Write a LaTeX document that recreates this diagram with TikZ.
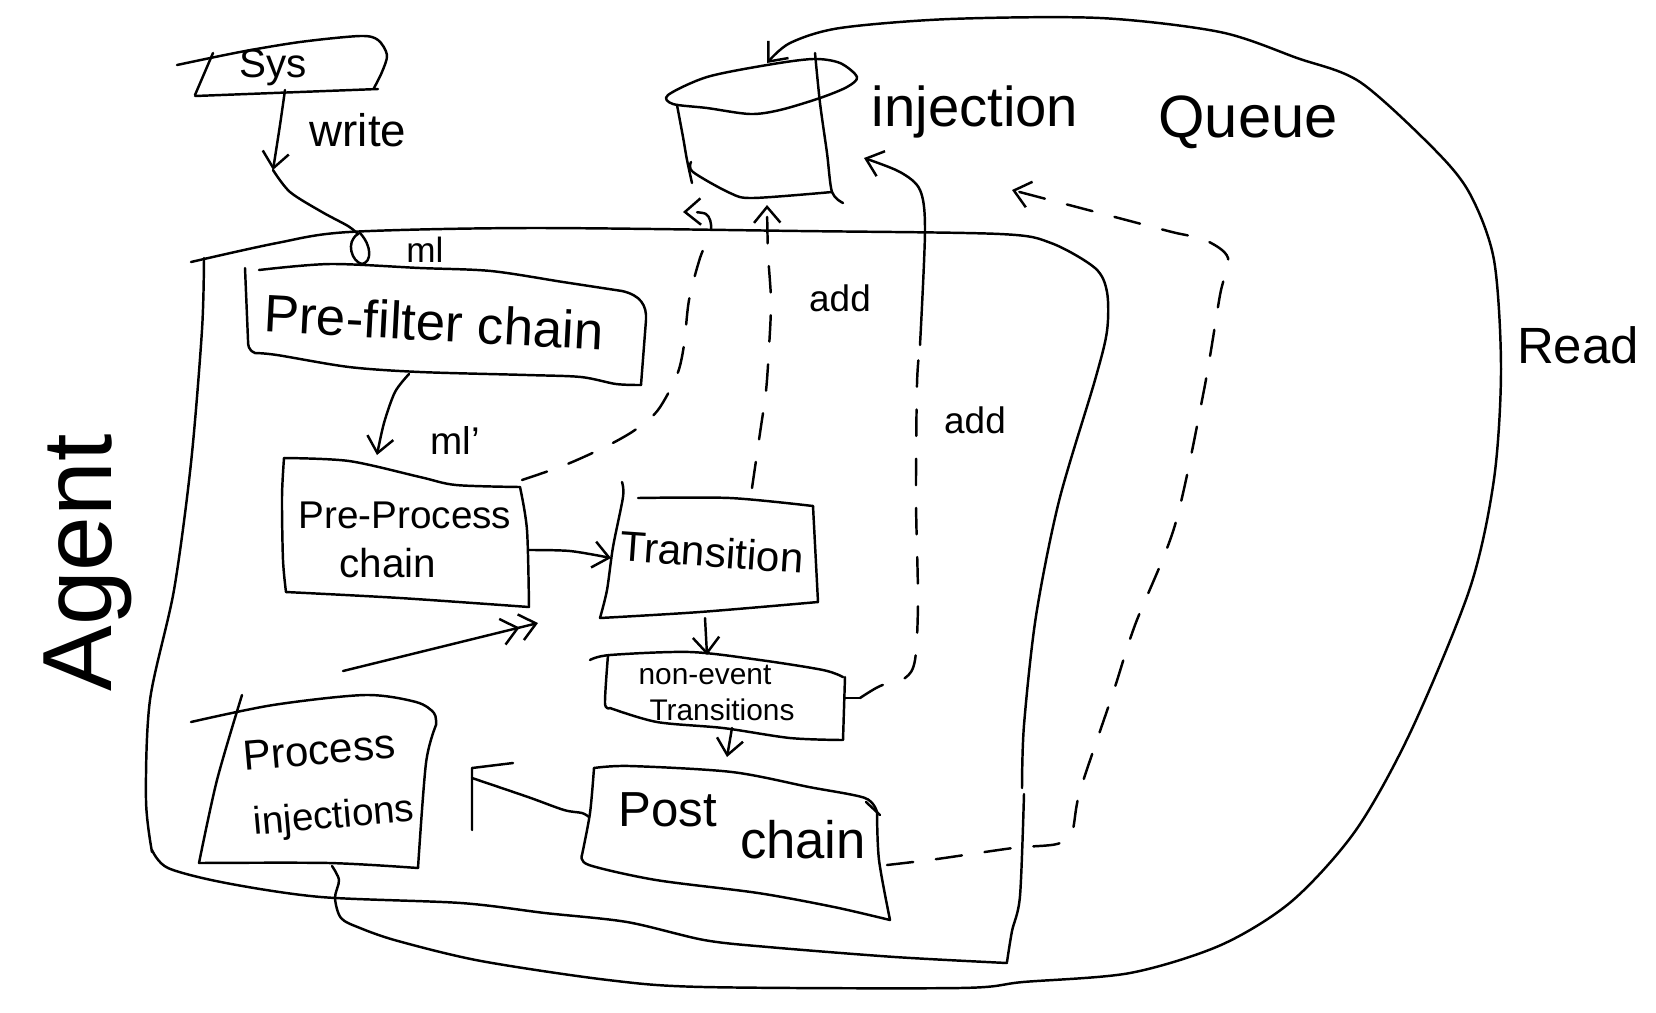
\documentclass[tikz,border=0pt]{standalone}
\usepackage{fontspec}
\setmainfont{Liberation Sans}
\usetikzlibrary{arrows.meta}
\begin{document}
\begin{tikzpicture}[x=0.02cm,y=-0.02cm,
  line width=1.4pt, line cap=round, line join=round,
  arr/.style={-{Straight Barb[length=9pt,width=15pt,line width=1.4pt]}},
  darr/.style={-{Straight Barb[length=9pt,width=15pt,line width=1.4pt]Straight Barb[length=9pt,width=15pt,line width=1.4pt]}},
  dsh/.style={dash pattern=on 15pt off 13pt},
  txt/.style={inner sep=0pt, anchor=center},
]
\fill[white] (0,0) rectangle (1656,1012);
\useasboundingbox (0,0) rectangle (1656,1012);

% ---------- Sys box ----------
\draw plot[smooth] coordinates {(177,65) (240,52) (300,42) (360,36) (378,40) (387,55) (382,72) (374,88)};
\draw (213,53) -- (195,95);
\draw (195,96) -- (378,89);
\node[txt, font=\fontsize{23}{26}\selectfont] (sys) at (273,68) {Sys};
\coordinate (sys-s) at (285,90);
\coordinate (wmid) at (273,170);
\draw[arr] plot[smooth] coordinates {(sys-s) (280,125) (wmid)};
\draw plot[smooth] coordinates {(wmid) (290,192) (322,212) (348,226) (358,234)};
\draw (358,234) .. controls (345,242) and (352,262) .. (362,264) .. controls (372,262) and (372,246) .. (360,233);
\node[txt, font=\fontsize{26}{30}\selectfont] (write) at (358,130) {write};
\node[txt, font=\fontsize{20}{24}\selectfont] (ml1) at (425,250) {ml};

% ---------- Agent big box ----------
\draw plot[smooth] coordinates {(191,262) (277,243) (349,232) (530,228) (800,231) (1000,234) (1051,243) (1095,268) (1107,292) (1107,331) (1095,380) (1059,501) (1036,616) (1024,725) (1022,788)};
\draw plot[smooth] coordinates {(1024,794) (1020,896) (1012,931) (1007,962)};
\draw plot[smooth] coordinates {(1007,963) (895,957) (768,947) (704,940) (627,922) (545,913) (461,903) (321,897) (226,883) (168,868) (152,850)};
\draw plot[smooth] coordinates {(152,852) (146,800) (150,700) (174,590) (191,463) (202,330) (204,258)};
\node[txt, rotate=90, font=\fontsize{56}{60}\selectfont] (agent) at (88,563) {Agent};

% ---------- Pre-filter chain ----------
\draw plot[smooth] coordinates {(259,270) (330,264) (420,268) (491,271) (563,282) (622,291)};
\draw (622,291) .. controls (640,295) and (647,305) .. (646,320) -- (641,385);
\draw plot[smooth] coordinates {(641,385) (616,384) (581,377) (527,375) (420,372) (349,367) (277,355) (255,353)};
\draw (255,353) .. controls (248,350) and (248,345) .. (248,340) -- (245,268);
\node[txt, rotate=-3, font=\fontsize{30}{34}\selectfont] (pf) at (434,322) {Pre-filter chain};

\coordinate (pf-s) at (409,374);
\coordinate (pp-n) at (377,455);
\draw[arr] plot[smooth] coordinates {(pf-s) (395,392) (384,423) (pp-n)};
\node[txt, font=\fontsize{22}{26}\selectfont] (ml2) at (455,440) {ml'};

% ---------- Pre-Process chain ----------
\draw plot[smooth] coordinates {(284,458) (349,461) (420,477) (456,485) (520,487)};
\draw plot[smooth] coordinates {(520,487) (527,530) (529,607)};
\draw plot[smooth] coordinates {(286,592) (400,598) (529,607)};
\draw plot[smooth] coordinates {(284,458) (282,497) (283,560) (286,592)};
\node[txt, font=\fontsize{22}{26}\selectfont] (pp) at (405,515) {Pre-Process};
\node[txt, font=\fontsize{23}{27}\selectfont] (pp2) at (388,563) {chain};

% ---------- Transition ----------
\draw plot[smooth] coordinates {(622,482) (623,497) (613,547) (607,590) (600,618)};
\draw plot[smooth] coordinates {(638,498) (730,498) (813,506)};
\draw (813,506) -- (818,602);
\draw plot[smooth] coordinates {(600,618) (700,612) (818,602)};
\node[txt, rotate=-4, font=\fontsize{24}{28}\selectfont] (tr) at (712,552) {Transition};

\coordinate (pp-e) at (529,550);
\coordinate (tr-w) at (611,558);
\draw[arr] plot[smooth] coordinates {(pp-e) (570,551) (tr-w)};

% ---------- non-event Transitions ----------
\draw plot[smooth] coordinates {(590,660) (610,655) (690,652) (760,660) (823,670) (843,677)};
\draw plot[smooth] coordinates {(608,655) (605,703) (610,708)};
\draw plot[smooth] coordinates {(610,708) (657,722) (723,728) (790,738) (842,740)};
\draw (845,677) -- (843,740);
\draw (845,698) -- (860,698);
\node[txt, font=\fontsize{17}{20}\selectfont] (ne) at (705,675) {non-event};
\node[txt, font=\fontsize{17}{20}\selectfont] (ne2) at (722,710) {Transitions};

\coordinate (tr-s) at (705,618);
\coordinate (ne-n) at (707,655);
\draw[arr] (tr-s) -- (ne-n);

% ---------- Post chain ----------
\draw plot[smooth] coordinates {(594,768) (630,766) (732,772) (809,787) (865,798) (877,812)};
\draw (866,802) -- (880,815);
\draw plot[smooth] coordinates {(877,812) (879,860) (890,920)};
\draw plot[smooth] coordinates {(890,920) (834,907) (758,893) (656,880) (589,865) (582,855)};
\draw plot[smooth] coordinates {(582,855) (590,813) (594,768)};
\node[txt, font=\fontsize{28}{32}\selectfont] (pc) at (668,810) {Post};
\node[txt, font=\fontsize{30}{34}\selectfont] (pc2) at (803,840) {chain};

\coordinate (ne-s) at (732,728);
\coordinate (pc-n) at (727,757);
\draw[arr] (ne-s) -- (pc-n);

\coordinate (pc-w) at (589,817);
\draw (513,763) -- (472,768) -- (472,830);
\draw plot[smooth] coordinates {(472,778) (528,797) (564,810) (582,813) (pc-w)};

% ---------- Process injections ----------
\draw plot[smooth] coordinates {(191,722) (273,705) (365,695) (416,702) (434,713) (436,725)};
\draw plot[smooth] coordinates {(436,725) (426,763) (418,868)};
\draw plot[smooth] coordinates {(418,868) (329,863) (199,863)};
\draw plot[smooth] coordinates {(199,863) (217,780) (242,695)};
\node[txt, rotate=5, font=\fontsize{24}{28}\selectfont] (pi) at (319,750) {Process};
\node[txt, rotate=5, font=\fontsize{22}{26}\selectfont] (pi2) at (334,818) {injections};

\coordinate (pi-ne) at (343,671);
\coordinate (tr-sw) at (538,623);
\draw[darr] (pi-ne) -- (tr-sw);

% ---------- Injection queue (cylinder) ----------
\draw plot[smooth cycle] coordinates {(668,95) (707,77) (767,65) (813,59) (840,63) (857,77) (847,87) (820,98) (780,110) (750,114) (707,108) (673,104)};
\draw plot[smooth] coordinates {(677,105) (683,137) (687,160) (692,183)};
\draw plot[smooth] coordinates {(691,162) (693,172) (730,193) (753,198) (832,192)};
\draw plot[smooth] coordinates {(815,53) (820,103) (827,153) (832,192) (843,203)};
\node[txt, font=\fontsize{32}{36}\selectfont] (iq1) at (975,112) {injection};
\node[txt, font=\fontsize{34}{38}\selectfont] (iq2) at (1248,122) {Queue};

% ---------- Read loop ----------
\coordinate (pi-s) at (332,866);
\coordinate (q-top) at (767,63);
\draw[arr] plot[smooth] coordinates {(pi-s) (339,880) (335,898) (341,918) (360,928) (398,941) (481,961) (608,980) (704,987) (959,988) (1023,982) (1130,973) (1221,945) (1292,901) (1356,830) (1411,731) (1470,588) (1494,479) (1501,369) (1494,260) (1470,194) (1435,150) (1360,82) (1297,58) (1220,32) (1100,18) (950,19) (840,28) (790,43) (q-top)};
\node[txt, font=\fontsize{29}{33}\selectfont] (read) at (1578,345) {Read};

% ---------- dashed: Post chain -> queue ----------
\coordinate (pc-e) at (887,865);
\coordinate (q-r) at (1012,190);
\draw[dsh, arr] plot[smooth] coordinates {(pc-e) (937,859) (1013,848) (1057,844) (1072,832) (1080,791) (1113,693) (1135,625) (1175,525) (1204,390) (1220,295) (1228,258) (1205,240) (1172,232) (1111,216) (1050,200) (q-r)};

% ---------- dashed: non-event -> queue (add) ----------
\coordinate (ne-e) at (860,698);
\coordinate (addturn) at (920,345);
\coordinate (q-inj) at (864,158);
\draw[dsh] plot[smooth] coordinates {(ne-e) (880,686) (905,678) (915,660) (918,600) (916,500) (917,384) (addturn)};
\draw[arr] plot[smooth] coordinates {(addturn) (925,230) (920,190) (900,172) (q-inj)};
\node[txt, font=\fontsize{21}{24}\selectfont] (add2) at (975,420) {add};

% ---------- dashed: Transition -> queue (add) ----------
\coordinate (tr-n) at (752,488);
\coordinate (q-b2) at (767,205);
\draw[dsh, arr] plot[smooth] coordinates {(tr-n) (760,433) (766,391) (769,348) (771,301) (768,253) (q-b2)};
\node[txt, font=\fontsize{21}{24}\selectfont] (add1) at (840,298) {add};

% ---------- dashed: Pre-Process -> queue ----------
\coordinate (pp-ne) at (522,480);
\coordinate (q-b1) at (683,212);
\draw[dsh, arr] plot[smooth] coordinates {(pp-ne) (565,465) (605,447) (635,430) (658,410) (677,375) (684,345) (689,300) (700,258) (711,230) (706,214) (q-b1)};

\end{tikzpicture}
\end{document}
